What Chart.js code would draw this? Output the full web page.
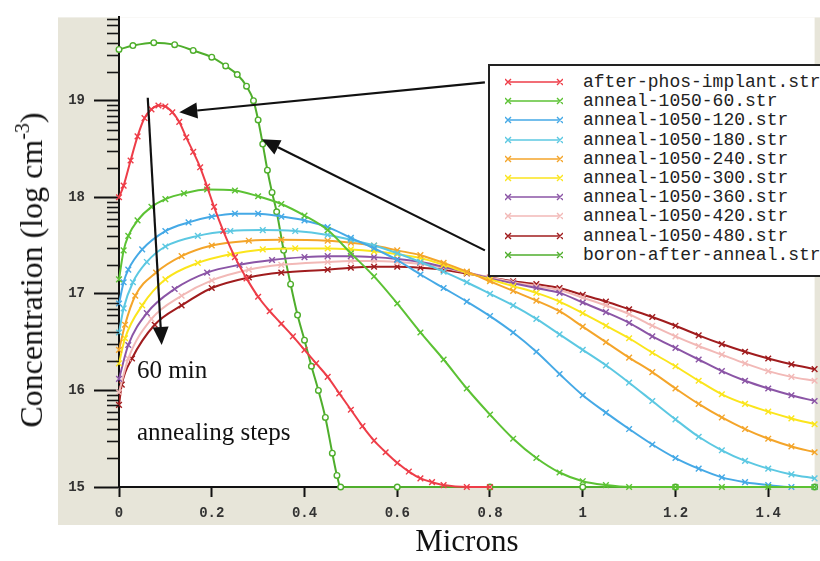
<!DOCTYPE html>
<html>
<head>
<meta charset="utf-8">
<script src="https://cdn.jsdelivr.net/npm/chart.js@4.4.1/dist/chart.umd.min.js"></script>
<style>
  html, body { margin: 0; padding: 0; background: #fff; overflow: hidden; }
  #wrap { position: relative; width: 820px; height: 561px; overflow: hidden; }
  #chart { position: absolute; left: 0; top: 0; }
  .note {
    position: absolute;
    font-family: "Liberation Serif", "Times New Roman", serif;
    font-size: 25px;
    line-height: 1;
    color: #111;
    white-space: nowrap;
  }
  #ytitle {
    position: absolute;
    left: 31px;
    top: 270px;
    transform: translate(-50%, -50%) rotate(-90deg);
    font-family: "Liberation Serif", "Times New Roman", serif;
    font-size: 32px;
    line-height: 1;
    color: #111;
    white-space: nowrap;
  }
  #ytitle sup { font-size: 20px; vertical-align: 13px; line-height: 0; }
  #legend {
    position: absolute;
    left: 488px;
    top: 64px;
    width: 350px;
    height: 209px;
    border: 2px solid #222;
    background: #fff;
  }
  .row {
    position: absolute;
    left: 0;
    height: 20px;
    display: flex;
    align-items: center;
    font-family: "Liberation Mono", "DejaVu Sans Mono", monospace;
    font-size: 18px;
    color: #222;
    white-space: nowrap;
  }
  .row svg { margin-left: 15px; margin-right: 20px; }
</style>
</head>
<body>
<div id="wrap">
  <canvas id="chart" width="820" height="561"></canvas>
  <div id="ytitle">Concentration (log cm<sup>-3</sup>)</div>
  <div class="note" style="left:137px; top:357px;">60 min</div>
  <div class="note" style="left:137px; top:419px;">annealing steps</div>
  <div id="legend"></div>
</div>
<script>
// x in microns, y in log10(cm^-3)
const xTicks = [0, 0.2, 0.4, 0.6, 0.8, 1, 1.2, 1.4];
const xTickLabels = ["0", "0.2", "0.4", "0.6", "0.8", "1", "1.2", "1.4"];
const yTicks = [15, 16, 17, 18, 19];
const yTickLabels = ["15", "16", "17", "18", "19"];

const seriesNames = [
  "after-phos-implant.str",
  "anneal-1050-60.str",
  "anneal-1050-120.str",
  "anneal-1050-180.str",
  "anneal-1050-240.str",
  "anneal-1050-300.str",
  "anneal-1050-360.str",
  "anneal-1050-420.str",
  "anneal-1050-480.str",
  "boron-after-anneal.str",
];
const seriesColors = [
  "#ee3d48", "#5cc234", "#45a9e6", "#5cc8e2", "#f4a52a",
  "#fbe51c", "#8b55a6", "#f2b9b7", "#a01c1e", "#4fae2c",
];

const afterPhos = [[0,18.0],[0.01,18.12],[0.025,18.38],[0.04,18.63],[0.055,18.82],[0.07,18.91],[0.085,18.95],[0.1,18.94],[0.115,18.88],[0.13,18.78],[0.145,18.62],[0.16,18.47],[0.175,18.31],[0.19,18.11],[0.205,17.9],[0.225,17.65],[0.25,17.38],[0.275,17.16],[0.3,16.97],[0.325,16.82],[0.35,16.69],[0.375,16.56],[0.4,16.42],[0.425,16.28],[0.45,16.14],[0.475,15.97],[0.5,15.8],[0.525,15.63],[0.55,15.48],[0.575,15.36],[0.6,15.25],[0.625,15.16],[0.65,15.09],[0.675,15.05],[0.7,15.02],[0.75,15.0],[0.8,15.0]];
const anneal60 = [[0,17.15],[0.01,17.45],[0.02,17.6],[0.04,17.76],[0.07,17.9],[0.1,17.98],[0.14,18.04],[0.19,18.08],[0.25,18.07],[0.3,18.01],[0.35,17.93],[0.4,17.81],[0.45,17.66],[0.5,17.42],[0.55,17.18],[0.6,16.9],[0.65,16.6],[0.7,16.32],[0.75,16.02],[0.8,15.75],[0.85,15.5],[0.9,15.3],[0.95,15.15],[1.0,15.06],[1.05,15.02],[1.1,15.0],[1.2,15.0],[1.3,15.0],[1.4,15.0],[1.5,15.0]];
const anneal120 = [[0,16.9],[0.01,17.12],[0.02,17.25],[0.05,17.46],[0.1,17.65],[0.15,17.74],[0.2,17.8],[0.25,17.83],[0.3,17.83],[0.35,17.8],[0.4,17.76],[0.45,17.69],[0.5,17.58],[0.55,17.47],[0.6,17.35],[0.65,17.2],[0.7,17.06],[0.75,16.92],[0.8,16.77],[0.85,16.6],[0.9,16.4],[0.95,16.17],[1.0,15.95],[1.05,15.77],[1.1,15.6],[1.15,15.44],[1.2,15.3],[1.25,15.19],[1.3,15.1],[1.35,15.05],[1.4,15.02],[1.45,15.0],[1.5,15.0]];
const anneal180 = [[0,16.6],[0.01,16.85],[0.03,17.12],[0.06,17.33],[0.1,17.49],[0.17,17.6],[0.24,17.65],[0.31,17.66],[0.38,17.65],[0.45,17.61],[0.5,17.56],[0.55,17.5],[0.6,17.42],[0.65,17.33],[0.7,17.23],[0.75,17.12],[0.8,17.0],[0.85,16.88],[0.9,16.74],[0.95,16.58],[1.0,16.42],[1.05,16.26],[1.1,16.08],[1.15,15.89],[1.2,15.7],[1.25,15.52],[1.3,15.38],[1.35,15.27],[1.4,15.19],[1.45,15.13],[1.5,15.09]];
const anneal240 = [[0,16.42],[0.013,16.68],[0.035,16.98],[0.08,17.22],[0.135,17.39],[0.2,17.5],[0.28,17.55],[0.35,17.56],[0.45,17.55],[0.5,17.53],[0.55,17.5],[0.6,17.45],[0.65,17.4],[0.7,17.32],[0.75,17.23],[0.8,17.13],[0.85,17.03],[0.9,16.93],[0.95,16.82],[1.0,16.66],[1.05,16.5],[1.1,16.34],[1.15,16.19],[1.2,16.02],[1.25,15.86],[1.3,15.72],[1.35,15.6],[1.4,15.5],[1.45,15.42],[1.5,15.36]];
const anneal300 = [[0,16.28],[0.013,16.54],[0.05,16.88],[0.1,17.15],[0.17,17.32],[0.24,17.41],[0.31,17.46],[0.38,17.47],[0.45,17.47],[0.5,17.46],[0.55,17.44],[0.6,17.41],[0.65,17.37],[0.7,17.3],[0.75,17.22],[0.8,17.15],[0.85,17.08],[0.9,17.01],[0.95,16.92],[1.0,16.8],[1.05,16.67],[1.1,16.54],[1.15,16.39],[1.2,16.25],[1.25,16.1],[1.3,15.96],[1.35,15.86],[1.4,15.78],[1.45,15.71],[1.5,15.65]];
const anneal360 = [[0,16.12],[0.02,16.47],[0.06,16.8],[0.12,17.05],[0.19,17.22],[0.26,17.3],[0.33,17.35],[0.4,17.38],[0.45,17.39],[0.5,17.39],[0.55,17.38],[0.6,17.36],[0.65,17.33],[0.7,17.28],[0.75,17.22],[0.8,17.16],[0.85,17.11],[0.9,17.06],[0.95,17.01],[1.0,16.91],[1.05,16.81],[1.1,16.7],[1.15,16.56],[1.2,16.44],[1.25,16.32],[1.3,16.2],[1.35,16.1],[1.4,16.02],[1.45,15.95],[1.5,15.89]];
const anneal420 = [[0,15.98],[0.02,16.33],[0.07,16.74],[0.135,16.98],[0.2,17.14],[0.28,17.25],[0.35,17.3],[0.45,17.33],[0.5,17.34],[0.55,17.34],[0.6,17.33],[0.65,17.31],[0.7,17.27],[0.75,17.22],[0.8,17.17],[0.85,17.12],[0.9,17.08],[0.95,17.04],[1.0,16.96],[1.05,16.88],[1.1,16.79],[1.15,16.67],[1.2,16.56],[1.25,16.46],[1.3,16.37],[1.35,16.28],[1.4,16.2],[1.45,16.14],[1.5,16.1]];
const anneal480 = [[0,15.85],[0.006,16.06],[0.028,16.33],[0.077,16.68],[0.135,16.88],[0.2,17.06],[0.28,17.17],[0.35,17.22],[0.45,17.25],[0.5,17.27],[0.55,17.28],[0.6,17.28],[0.65,17.27],[0.7,17.25],[0.75,17.21],[0.8,17.17],[0.85,17.13],[0.9,17.1],[0.95,17.06],[1.0,16.99],[1.05,16.92],[1.1,16.84],[1.15,16.76],[1.2,16.67],[1.25,16.57],[1.3,16.48],[1.35,16.4],[1.4,16.33],[1.45,16.27],[1.5,16.22]];
const boronAfterAnneal = [[0,19.53],[0.03,19.57],[0.075,19.6],[0.12,19.58],[0.16,19.52],[0.2,19.45],[0.23,19.36],[0.255,19.27],[0.275,19.15],[0.29,19.0],[0.3,18.8],[0.31,18.55],[0.32,18.28],[0.33,18.05],[0.34,17.85],[0.355,17.45],[0.37,17.1],[0.385,16.78],[0.4,16.52],[0.415,16.25],[0.43,16.0],[0.445,15.72],[0.46,15.35],[0.47,15.12],[0.478,15.0],[0.6,15.0],[0.8,15.0],[1.0,15.0],[1.2,15.0],[1.5,15.0]];

const seriesData = [afterPhos, anneal60, anneal120, anneal180, anneal240,
  anneal300, anneal360, anneal420, anneal480, boronAfterAnneal];

// annotation arrows, in data units (microns, log conc)
const arrows = [
  { from: [0.789, 19.19], to: [0.13, 18.88] },
  { from: [0.789, 17.45], to: [0.308, 18.6] },
  { from: [0.062, 19.03], to: [0.092, 16.47] },
];

const datasets = seriesData.map((pts, i) => {
  const isBoron = i === seriesData.length - 1;
  return {
    label: seriesNames[i],
    data: pts.map((p) => ({ x: p[0], y: p[1] })),
    borderColor: seriesColors[i],
    backgroundColor: isBoron ? "#fff" : seriesColors[i],
    borderWidth: 2,
    pointStyle: isBoron ? "circle" : "crossRot",
    pointRadius: isBoron ? 2.8 : 4,
    pointBorderWidth: 1.4,
    pointBorderColor: seriesColors[i],
    cubicInterpolationMode: "monotone",
    clip: false,
  };
});

// beige paper behind the axes
const paperPlugin = {
  id: "paper",
  beforeDraw(chart) {
    const { ctx, chartArea: a } = chart;
    ctx.save();
    ctx.fillStyle = "#e7e5d9";
    ctx.fillRect(a.left - 61, a.top, chart.width - (a.left - 61), a.bottom + 38 - a.top);
    ctx.fillStyle = "#fff";
    ctx.fillRect(a.left, a.top, a.right - a.left, a.bottom - a.top);
    ctx.restore();
  },
};

// log-style minor ticks on the y axis
const minorTicksPlugin = {
  id: "minorTicks",
  afterDraw(chart) {
    const { ctx } = chart;
    const y = chart.scales.y;
    ctx.save();
    ctx.strokeStyle = "#151515";
    ctx.lineWidth = 1.6;
    for (let d = 15; d < 20; d++) {
      for (let k = 2; k <= 9; k++) {
        const v = d + Math.log10(k);
        if (v > y.max) break;
        const py = Math.round(y.getPixelForValue(v)) + 0.5;
        ctx.beginPath();
        ctx.moveTo(y.right - 12, py);
        ctx.lineTo(y.right, py);
        ctx.stroke();
      }
    }
    ctx.restore();
  },
};

const arrowPlugin = {
  id: "arrows",
  afterDatasetsDraw(chart) {
    const { ctx } = chart;
    const xs = chart.scales.x, ys = chart.scales.y;
    ctx.save();
    ctx.strokeStyle = "#111";
    ctx.fillStyle = "#111";
    ctx.lineWidth = 2.2;
    arrows.forEach((a) => {
      const x1 = xs.getPixelForValue(a.from[0]), y1 = ys.getPixelForValue(a.from[1]);
      const x2 = xs.getPixelForValue(a.to[0]), y2 = ys.getPixelForValue(a.to[1]);
      const ang = Math.atan2(y2 - y1, x2 - x1);
      const len = 18, half = 8;
      const bx = x2 - len * Math.cos(ang), by = y2 - len * Math.sin(ang);
      ctx.beginPath();
      ctx.moveTo(x1, y1);
      ctx.lineTo(bx, by);
      ctx.stroke();
      ctx.beginPath();
      ctx.moveTo(x2, y2);
      ctx.lineTo(bx + half * Math.sin(ang), by - half * Math.cos(ang));
      ctx.lineTo(bx - half * Math.sin(ang), by + half * Math.cos(ang));
      ctx.closePath();
      ctx.fill();
    });
    ctx.restore();
  },
};

const tickFont = { family: "'Liberation Mono', 'DejaVu Sans Mono', monospace", size: 14, weight: "bold" };

const ctx = document.getElementById("chart").getContext("2d");
new Chart(ctx, {
  type: "line",
  data: { datasets },
  plugins: [paperPlugin, minorTicksPlugin, arrowPlugin],
  options: {
    responsive: false,
    animation: false,
    layout: { padding: { top: 12, left: 0, right: 0, bottom: 0 } },
    plugins: {
      legend: { display: false },
      tooltip: { enabled: false },
    },
    scales: {
      x: {
        type: "linear",
        min: 0,
        max: 1.5,
        afterBuildTicks: (scale) => {
          scale.ticks = xTicks.map((v) => ({ value: v }));
        },
        afterFit: (scale) => {
          scale.height = 74;
        },
        ticks: {
          font: tickFont,
          color: "#333",
          padding: 8,
          maxRotation: 0,
          callback: (value, index) => xTickLabels[index],
        },
        grid: {
          drawOnChartArea: false,
          tickLength: 10,
          tickColor: "#111",
          tickWidth: 2,
        },
        border: { color: "#111", width: 2 },
        title: {
          display: true,
          text: "Microns",
          color: "#111",
          font: { family: "'Liberation Serif', 'Times New Roman', serif", size: 31 },
          padding: { top: 0, bottom: 0 },
        },
      },
      y: {
        type: "linear",
        min: 15,
        max: 19.862,
        afterBuildTicks: (scale) => {
          scale.ticks = yTicks.map((v) => ({ value: v }));
        },
        afterFit: (scale) => {
          scale.width = 119;
        },
        ticks: {
          font: tickFont,
          color: "#333",
          padding: 9,
          callback: (value, index) => yTickLabels[index],
        },
        grid: {
          drawOnChartArea: false,
          tickLength: 25,
          tickColor: "#111",
          tickWidth: 2,
        },
        border: { color: "#111", width: 2 },
      },
    },
  },
});

// legend box, built from the same names and colours
const legend = document.getElementById("legend");
seriesNames.forEach((name, i) => {
  const row = document.createElement("div");
  row.className = "row";
  row.style.top = (6 + i * 19.2) + "px";
  const c = seriesColors[i];
  row.innerHTML =
    '<svg width="58" height="12" viewBox="0 0 58 12">' +
    '<line x1="3" y1="6" x2="55" y2="6" stroke="' + c + '" stroke-width="1.6"/>' +
    '<path d="M0 3 L6 9 M0 9 L6 3 M52 3 L58 9 M52 9 L58 3" stroke="' + c + '" stroke-width="1.4"/>' +
    "</svg><span>" + name + "</span>";
  legend.appendChild(row);
});
</script>
</body>
</html>
